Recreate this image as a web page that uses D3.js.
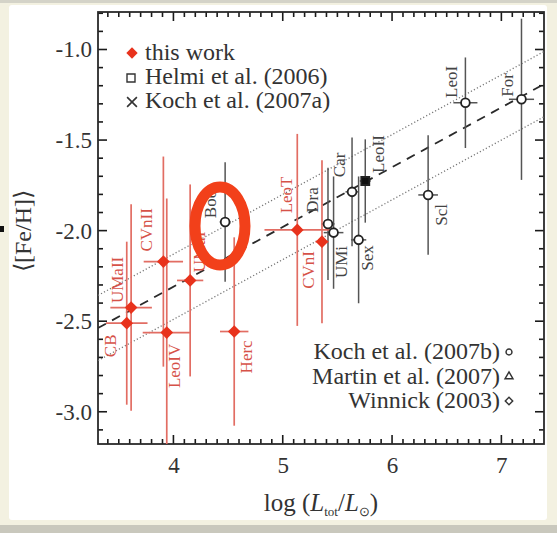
<!DOCTYPE html>
<html>
<head>
<meta charset="utf-8">
<script src="https://cdn.jsdelivr.net/npm/d3@7"></script>
<style>
  body { margin: 0; background: #f3f1e1; }
  svg { display: block; font-family: "Liberation Serif", "Times New Roman", serif; }
</style>
</head>
<body>
<svg width="557" height="533"></svg>
<script>
// "this work" (red diamonds)
const redNames = ["CB", "UMaII", "CVnII", "UMaI", "LeoIV", "Herc", "LeoT", "CVnI"];
const redLogL  = [3.573, 3.613, 3.908, 4.153, 3.939, 4.556, 5.133, 5.359];
const redFeH   = [-2.511, -2.425, -2.171, -2.275, -2.563, -2.557, -1.996, -2.061];
const redErrY  = [0.45, 0.57, 0.58, 0.53, 0.74, 0.52, 0.53, 0.45];
const redErrX  = [0.19, 0.19, 0.18, 0.12, 0.22, 0.13, 0.30, 0.06];
// where each red label sits (data units, centre of the rotated text)
const redLabX  = [3.475, 3.539, 3.805, 4.290, 4.061, 4.721, 5.087, 5.289];
const redLabY  = [-2.636, -2.272, -1.996, -2.118, -2.747, -2.697, -1.803, -2.217];

// literature dSphs (black)
const blkNames = ["Boo", "Dra", "UMi", "Car", "LeoII", "Sex", "Scl", "LeoI", "For"];
const blkLogL  = [4.473, 5.414, 5.465, 5.634, 5.755, 5.694, 6.330, 6.671, 7.184];
const blkFeH   = [-1.952, -1.963, -2.011, -1.786, -1.726, -2.051, -1.803, -1.294, -1.275];
const blkErrY  = [0.33, 0.31, 0.31, 0.30, 0.23, 0.35, 0.33, 0.25, 0.445];
const blkErrX  = [0.05, 0.06, 0.09, 0.06, 0.05, 0.07, 0.09, 0.11, 0.115];
const blkFilled = [false, false, false, false, true, false, false, false, false];
const blkLabX  = [4.391, 5.325, 5.591, 5.573, 5.930, 5.830, 6.506, 6.598, 7.102];
const blkLabY  = [-1.853, -1.831, -2.173, -1.637, -1.577, -2.151, -1.913, -1.179, -1.196];

// fit: <[Fe/H]> = a + b*(logL - 5), dotted lines at +-s
const fitA = -1.98, fitB = 0.33, fitS = 0.18;

const legendTop = ["this work", "Helmi et al. (2006)", "Koch et al. (2007a)"];
const legendBottom = ["Koch et al. (2007b)", "Martin et al. (2007)", "Winnick (2003)"];

const xDomain = [3.31, 7.39];
const yDomain = [-3.178, -0.793];

const svg = d3.select("svg");
const pLeft = 98, pRight = 544, pTop = 12, pBottom = 444;

// page card
svg.append("rect").attr("x", 0).attr("y", 0).attr("width", 557).attr("height", 3).attr("fill", "#d4d3c8");
svg.append("rect").attr("x", 9).attr("y", 5).attr("width", 538).attr("height", 515).attr("rx", 3).attr("fill", "#ffffff");
svg.append("rect").attr("x", 0).attr("y", 525).attr("width", 557).attr("height", 8).attr("fill", "#c9c8bd");
svg.append("rect").attr("x", 0).attr("y", 226).attr("width", 4).attr("height", 6).attr("fill", "#111");

const x = d3.scaleLinear().domain(xDomain).range([pLeft, pRight]);
const y = d3.scaleLinear().domain(yDomain).range([pBottom, pTop]);

svg.append("clipPath").attr("id", "plot")
  .append("rect").attr("x", pLeft).attr("y", pTop).attr("width", pRight - pLeft).attr("height", pBottom - pTop);

// tick marks, all pointing inward (IDL style)
const xMinor = x.ticks(40), yMinor = y.ticks(24);
const xMajor = x.ticks(4), yMajor = y.ticks(5);
const isMajX = v => xMajor.some(m => Math.abs(m - v) < 1e-6);
const isMajY = v => yMajor.some(m => Math.abs(m - v) < 1e-6);
const tk = svg.append("g").attr("stroke", "#1a1a1a").attr("stroke-width", 1.6);
tk.selectAll(".xb").data(xMinor).enter().append("line")
  .attr("x1", d => x(d)).attr("x2", d => x(d))
  .attr("y1", pBottom).attr("y2", d => pBottom - (isMajX(d) ? 9 : 5));
tk.selectAll(".xt").data(xMinor).enter().append("line")
  .attr("x1", d => x(d)).attr("x2", d => x(d))
  .attr("y1", pTop).attr("y2", d => pTop + (isMajX(d) ? 9 : 5));
tk.selectAll(".yl").data(yMinor).enter().append("line")
  .attr("y1", d => y(d)).attr("y2", d => y(d))
  .attr("x1", pLeft).attr("x2", d => pLeft + (isMajY(d) ? 9 : 5));
tk.selectAll(".yr").data(yMinor).enter().append("line")
  .attr("y1", d => y(d)).attr("y2", d => y(d))
  .attr("x1", pRight).attr("x2", d => pRight - (isMajY(d) ? 9 : 5));

// tick labels via axes (lines hidden)
const xa = svg.append("g").attr("transform", `translate(0,${pBottom})`)
  .call(d3.axisBottom(x).tickValues(xMajor).tickSize(0).tickPadding(13).tickFormat(d => d));
const ya = svg.append("g").attr("transform", `translate(${pLeft},0)`)
  .call(d3.axisLeft(y).tickValues(yMajor).tickSize(0).tickPadding(6).tickFormat(d => d.toFixed(1)));
[xa, ya].forEach(g => {
  g.select(".domain").remove();
  g.selectAll("line").remove();
  g.selectAll("text").attr("font-size", 23).attr("fill", "#333");
  g.attr("font-family", null);
});

svg.append("rect").attr("x", pLeft).attr("y", pTop).attr("width", pRight - pLeft).attr("height", pBottom - pTop)
  .attr("fill", "none").attr("stroke", "#2a2a2a").attr("stroke-width", 1.8);

// fit lines
const plot = svg.append("g").attr("clip-path", "url(#plot)");
const fit = (v, off) => fitA + fitB * (v - 5) + off;
[[-fitS, "1.2,2.2", "#777", 1.3], [fitS, "1.2,2.2", "#777", 1.3], [0, "9,7", "#2a2a2a", 1.8]].forEach(([off, dash, col, w]) => {
  plot.append("line")
    .attr("x1", x(xDomain[0])).attr("y1", y(fit(xDomain[0], off)))
    .attr("x2", x(xDomain[1])).attr("y2", y(fit(xDomain[1], off)))
    .attr("stroke", col).attr("stroke-width", w).attr("stroke-dasharray", dash);
});

const red = redNames.map((n, i) => ({n, x: redLogL[i], y: redFeH[i], ex: redErrX[i], ey: redErrY[i], lx: redLabX[i], ly: redLabY[i]}));
const blk = blkNames.map((n, i) => ({n, x: blkLogL[i], y: blkFeH[i], ex: blkErrX[i], ey: blkErrY[i], f: blkFilled[i], lx: blkLabX[i], ly: blkLabY[i]}));

function errorBars(data, col, w) {
  const g = plot.append("g").attr("stroke", col).attr("stroke-width", w);
  g.selectAll(".v").data(data).enter().append("line")
    .attr("x1", d => x(d.x)).attr("x2", d => x(d.x))
    .attr("y1", d => y(d.y - d.ey)).attr("y2", d => y(d.y + d.ey));
  g.selectAll(".h").data(data).enter().append("line")
    .attr("y1", d => y(d.y)).attr("y2", d => y(d.y))
    .attr("x1", d => x(d.x - d.ex)).attr("x2", d => x(d.x + d.ex));
}
function labels(data, col) {
  svg.append("g").selectAll("text").data(data).enter().append("text")
    .attr("transform", d => `translate(${x(d.lx)},${y(d.ly)}) rotate(-90)`)
    .attr("text-anchor", "middle").attr("font-size", 17).attr("fill", col)
    .text(d => d.n);
}

errorBars(blk, "#555", 1.5);
errorBars(red, "#e26d63", 1.7);

plot.append("g").selectAll("path").data(blk).enter().append("path")
  .attr("transform", d => `translate(${x(d.x)},${y(d.y)})`)
  .attr("d", d => d.f ? d3.symbol(d3.symbolSquare, 64)() : d3.symbol(d3.symbolCircle, 60)())
  .attr("fill", d => d.f ? "#111" : "#fff").attr("stroke", "#222").attr("stroke-width", 1.8);

plot.append("g").selectAll("path").data(red).enter().append("path")
  .attr("transform", d => `translate(${x(d.x)},${y(d.y)}) rotate(45)`)
  .attr("d", d3.symbol(d3.symbolSquare, 80)())
  .attr("fill", "#e8321c");

labels(blk, "#444");
labels(red, "#d65248");

// legends
const lg = svg.append("g").attr("font-size", 24).attr("fill", "#333");
legendTop.forEach((t, i) => lg.append("text").attr("x", 145).attr("y", 60 + i * 24).text(t));
lg.append("path").attr("transform", "translate(132,53) rotate(45)")
  .attr("d", d3.symbol(d3.symbolSquare, 64)()).attr("fill", "#e8321c");
lg.append("path").attr("transform", "translate(131,78)")
  .attr("d", d3.symbol(d3.symbolSquare, 64)()).attr("fill", "none").attr("stroke", "#333").attr("stroke-width", 1.4);
lg.append("path").attr("transform", "translate(132,102)")
  .attr("d", d3.symbol(d3.symbolTimes, 64)()).attr("fill", "none").attr("stroke", "#333").attr("stroke-width", 1.6);

legendBottom.forEach((t, i) => lg.append("text").attr("x", 500).attr("y", 359 + i * 24.5)
  .attr("text-anchor", "end").text(t));
const sym = [d3.symbolCircle, d3.symbolTriangle, d3.symbolSquare];
sym.forEach((s, i) => lg.append("path")
  .attr("transform", `translate(509,${352 + i * 24.5}) rotate(${i === 2 ? 45 : 0})`)
  .attr("d", d3.symbol(s, 28)()).attr("fill", "none").attr("stroke", "#333").attr("stroke-width", 1.4));

// axis titles
const xt = svg.append("text").attr("x", (pLeft + pRight) / 2).attr("y", 511)
  .attr("text-anchor", "middle").attr("font-size", 25).attr("fill", "#333");
xt.append("tspan").text("log (");
xt.append("tspan").attr("font-style", "italic").text("L");
xt.append("tspan").attr("font-size", 13).attr("dy", 5).text("tot");
xt.append("tspan").attr("dy", -5).text("/");
xt.append("tspan").attr("font-style", "italic").text("L");
xt.append("tspan").attr("font-size", 13).attr("dy", 5).text("\u2299");
xt.append("tspan").attr("dy", -5).text(")");

svg.append("text").attr("transform", "translate(31,231) rotate(-90)")
  .attr("text-anchor", "middle").attr("font-size", 24).attr("fill", "#333")
  .text("\u27E8[Fe/H]\u27E9");

// highlight ring
svg.append("ellipse").attr("cx", 220).attr("cy", 226).attr("rx", 25).attr("ry", 39)
  .attr("fill", "none").attr("stroke", "#f2401a").attr("stroke-width", 11);
</script>
</body>
</html>
